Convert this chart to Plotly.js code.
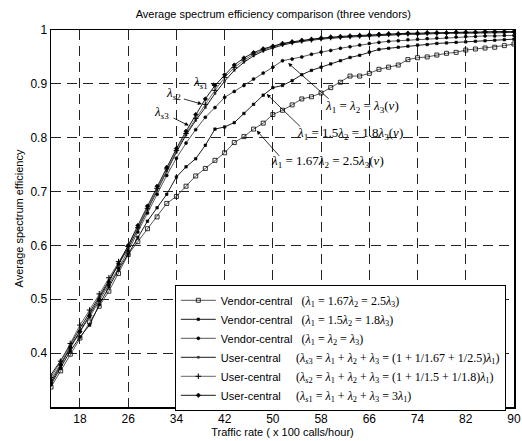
<!DOCTYPE html>
<html>
<head>
<meta charset="utf-8">
<script src="https://cdn.plot.ly/plotly-3.0.1.min.js"></script>
<style>
  html, body { margin: 0; padding: 0; background: #fff; }
  #chart { width: 522px; height: 441px; }
</style>
</head>
<body>
<div id="chart"></div>
<script>
// ---- Data ----
const trafficRate = [13.2, 14.8, 16.4, 18.0, 19.6, 21.2, 22.8, 24.4, 26.0, 27.6,
  29.2, 30.8, 32.4, 34.0, 35.6, 37.2, 38.8, 40.4, 42.0, 43.6,
  45.2, 46.8, 48.4, 50.0, 51.6, 53.2, 54.8, 56.4, 58.0, 59.6,
  61.2, 62.8, 64.4, 66.0, 67.6, 69.2, 70.8, 72.4, 74.0, 75.6,
  77.2, 78.8, 80.4, 82.0, 83.6, 85.2, 86.8, 88.4, 90.0];

// Vendor-central (λ1 = 1.67λ2 = 2.5λ3)
const vendor167 = [0.337, 0.367, 0.398, 0.428, 0.458, 0.487, 0.515, 0.548, 0.583, 0.607,
  0.631, 0.653, 0.678, 0.691, 0.710, 0.729, 0.743, 0.758, 0.772, 0.791,
  0.802, 0.816, 0.827, 0.843, 0.851, 0.861, 0.872, 0.876, 0.883, 0.893,
  0.903, 0.9145, 0.9145, 0.9195, 0.927, 0.931, 0.935, 0.945, 0.9485, 0.950,
  0.9535, 0.9567, 0.9585, 0.9628, 0.9647, 0.9665, 0.968, 0.971, 0.974];

// Vendor-central (λ1 = 1.5λ2 = 1.8λ3)
const vendor15 = [0.342, 0.372, 0.404, 0.430, 0.452, 0.490, 0.523, 0.555, 0.584, 0.615,
  0.645, 0.670, 0.695, 0.727, 0.746, 0.761, 0.786, 0.816, 0.820, 0.828,
  0.845, 0.862, 0.879, 0.893, 0.897, 0.906, 0.917, 0.925, 0.931, 0.937,
  0.943, 0.949, 0.953, 0.959, 0.964, 0.966, 0.968, 0.970, 0.972, 0.973,
  0.975, 0.976, 0.977, 0.978, 0.979, 0.980, 0.981, 0.982, 0.983];

// Vendor-central (λ1 = λ2 = λ3)
const vendorEq = [0.350, 0.380, 0.413, 0.440, 0.467, 0.497, 0.527, 0.558, 0.590, 0.625,
  0.660, 0.695, 0.730, 0.762, 0.790, 0.815, 0.838, 0.856, 0.875, 0.886,
  0.897, 0.909, 0.920, 0.931, 0.943, 0.946, 0.950, 0.955, 0.959, 0.962,
  0.966, 0.969, 0.972, 0.975, 0.977, 0.979, 0.980, 0.982, 0.983, 0.984,
  0.985, 0.986, 0.987, 0.988, 0.988, 0.989, 0.989, 0.990, 0.990];

// User-central λs3
const userS3 = [0.360, 0.386, 0.416, 0.445, 0.475, 0.505, 0.535, 0.564, 0.595, 0.630,
  0.666, 0.702, 0.738, 0.773, 0.805, 0.832, 0.856, 0.882, 0.905, 0.925,
  0.940, 0.952, 0.961, 0.967, 0.972, 0.976, 0.979, 0.981, 0.983, 0.985,
  0.986, 0.987, 0.988, 0.989, 0.990, 0.991, 0.991, 0.992, 0.992, 0.993,
  0.993, 0.994, 0.994, 0.994, 0.995, 0.995, 0.995, 0.995, 0.996];

// User-central λs2
const userS2 = [0.355, 0.385, 0.418, 0.452, 0.480, 0.510, 0.540, 0.570, 0.598, 0.633,
  0.669, 0.706, 0.742, 0.776, 0.808, 0.836, 0.862, 0.888, 0.912, 0.930,
  0.944, 0.955, 0.963, 0.969, 0.974, 0.977, 0.980, 0.982, 0.984, 0.986,
  0.987, 0.988, 0.989, 0.990, 0.991, 0.992, 0.992, 0.993, 0.993, 0.994,
  0.994, 0.994, 0.995, 0.995, 0.995, 0.996, 0.996, 0.996, 0.996];

// User-central λs1
const userS1 = [0.345, 0.378, 0.410, 0.440, 0.470, 0.500, 0.532, 0.566, 0.600, 0.637,
  0.673, 0.710, 0.745, 0.780, 0.812, 0.843, 0.872, 0.897, 0.917, 0.935,
  0.948, 0.958, 0.965, 0.970, 0.975, 0.978, 0.981, 0.983, 0.985, 0.987,
  0.988, 0.989, 0.990, 0.991, 0.992, 0.993, 0.993, 0.994, 0.994, 0.995,
  0.995, 0.995, 0.996, 0.996, 0.996, 0.997, 0.997, 0.997, 0.997];

const xTickVals = [18, 26, 34, 42, 50, 58, 66, 74, 82, 90];
const yTickVals = [0.4, 0.5, 0.6, 0.7, 0.8, 0.9, 1.0];
const yTickText = ['0.4', '0.5', '0.6', '0.7', '0.8', '0.9', '1'];

const seriesLabels = ['Vendor-central', 'Vendor-central', 'Vendor-central',
  'User-central', 'User-central', 'User-central'];
const L = '<i>λ</i>';
const seriesFormulas = [
  '(' + L + '<sub>1</sub> = 1.67' + L + '<sub>2</sub> = 2.5' + L + '<sub>3</sub>)',
  '(' + L + '<sub>1</sub> = 1.5' + L + '<sub>2</sub> = 1.8' + L + '<sub>3</sub>)',
  '(' + L + '<sub>1</sub> = ' + L + '<sub>2</sub> = ' + L + '<sub>3</sub>)',
  '(' + L + '<sub><i>s</i>3</sub> = ' + L + '<sub>1</sub> + ' + L + '<sub>2</sub> + ' + L + '<sub>3</sub> = (1 + 1/1.67 + 1/2.5)' + L + '<sub>1</sub>)',
  '(' + L + '<sub><i>s</i>2</sub> = ' + L + '<sub>1</sub> + ' + L + '<sub>2</sub> + ' + L + '<sub>3</sub> = (1 + 1/1.5 + 1/1.8)' + L + '<sub>1</sub>)',
  '(' + L + '<sub><i>s</i>1</sub> = ' + L + '<sub>1</sub> + ' + L + '<sub>2</sub> + ' + L + '<sub>3</sub> = 3' + L + '<sub>1</sub>)'
];

const curveLabels = [
  L + '<sub><i>s</i>1</sub>', L + '<sub><i>s</i>2</sub>', L + '<sub><i>s</i>3</sub>',
  L + '<sub>1</sub> = ' + L + '<sub>2</sub> = ' + L + '<sub>3</sub>(<i>v</i>)',
  L + '<sub>1</sub> = 1.5' + L + '<sub>2</sub> = 1.8' + L + '<sub>3</sub>(<i>v</i>)',
  L + '<sub>1</sub> = 1.67' + L + '<sub>2</sub> = 2.5' + L + '<sub>3</sub>(<i>v</i>)'
];

// ---- Styles ----
const SANS = '"Liberation Sans", Arial, sans-serif';
const SERIF = '"Liberation Serif", "Times New Roman", serif';
const pad = ['&nbsp;&nbsp;&nbsp;', '&nbsp;&nbsp;&nbsp;', '&nbsp;&nbsp;&nbsp;',
  '&nbsp;&nbsp;&nbsp;&nbsp;&nbsp;', '&nbsp;&nbsp;&nbsp;&nbsp;&nbsp;', '&nbsp;&nbsp;&nbsp;&nbsp;&nbsp;'];

const styles = [
  {color: '#444', symbol: 'square-open', size: 4, mcolor: '#000', lw: 0.8},
  {color: '#000', symbol: 'square', size: 2.5, mcolor: '#000', lw: 0.6},
  {color: '#444', symbol: 'circle', size: 3, mcolor: '#000', lw: 0.6},
  {color: '#000', symbol: 'square', size: 2, mcolor: '#333', lw: 0.5},
  {color: '#555', symbol: 'cross-thin-open', size: 4, mcolor: '#000', lw: 1},
  {color: '#000', symbol: 'diamond', size: 3.5, mcolor: '#000', lw: 0.5}
];
const allSeries = [vendor167, vendor15, vendorEq, userS3, userS2, userS1];

const traces = allSeries.map((ys, i) => ({
  x: trafficRate,
  y: ys,
  type: 'scatter',
  mode: 'lines+markers',
  name: seriesLabels[i] + pad[i] + '<span style="font-family:' + SERIF.replace(/"/g, "'") + ';font-size:12px">' + seriesFormulas[i] + '</span>',
  line: {color: styles[i].color, width: 0.9},
  marker: {symbol: styles[i].symbol, size: styles[i].size, color: styles[i].mcolor,
           line: {color: styles[i].mcolor, width: styles[i].lw}}
}));

// annotation helpers (pixel position in the reference -> data value)
function px2x(px) { return 18 + (px - 79.3) / 6.042; }
function py2y(py) { return 1 - (py - 30) / 538; }

const textAnn = [
  {px: 200, py: 82, t: curveLabels[0]},
  {px: 173, py: 93, t: curveLabels[1]},
  {px: 161, py: 112, t: curveLabels[2]},
  {px: 362, py: 106, t: curveLabels[3]},
  {px: 350, py: 133, t: curveLabels[4]},
  {px: 327, py: 161, t: curveLabels[5]}
];
const arrowAnn = [
  {hx: 216, hy: 85.5, ax: -7, ay: -2.5},
  {hx: 201.5, hy: 104, ax: -19.5, ay: -5.5},
  {hx: 188.3, hy: 125.5, ax: -16.6, ay: -8.3},
  {hx: 288, hy: 63, ax: 42, ay: 37},
  {hx: 266.5, hy: 94, ax: 35, ay: 34},
  {hx: 256.5, hy: 130.5, ax: 24, ay: 27}
];

const annotations = [];
textAnn.forEach(a => annotations.push({
  x: px2x(a.px), y: py2y(a.py), xref: 'x', yref: 'y', text: a.t, showarrow: false,
  font: {family: SERIF, size: 13, color: '#000'}, xanchor: 'center', yanchor: 'middle'
}));
arrowAnn.forEach(a => annotations.push({
  x: px2x(a.hx), y: py2y(a.hy), xref: 'x', yref: 'y', text: ' ', showarrow: true,
  ax: a.ax, ay: a.ay, arrowhead: 2, arrowsize: 1, arrowwidth: 0.8, arrowcolor: '#000',
  font: {size: 1}
}));

const gridDash = '10px,6px';
const layout = {
  width: 522, height: 441,
  margin: {l: 51, r: 8, t: 30, b: 34, pad: 0},
  paper_bgcolor: '#fff', plot_bgcolor: '#fff',
  font: {family: SANS, size: 11, color: '#000'},
  title: {text: 'Average spectrum efficiency comparison (three vendors)',
          font: {family: SANS, size: 11, color: '#000'},
          x: 0.5236, xref: 'container', xanchor: 'center',
          y: 1 - 14.5 / 441, yref: 'container', yanchor: 'middle'},
  xaxis: {
    range: [13.2, 90], tickvals: xTickVals, ticks: '',
    showline: true, linecolor: '#000', linewidth: 1.5, mirror: true,
    showgrid: true, gridcolor: '#222', gridwidth: 1, griddash: gridDash,
    zeroline: false, tickfont: {family: SANS, size: 12},
    title: {text: 'Traffic rate ( x 100 calls/hour)', font: {family: SANS, size: 11}, standoff: 3}
  },
  yaxis: {
    range: [0.3, 1], tickvals: yTickVals, ticktext: yTickText, ticks: '',
    showline: true, linecolor: '#000', linewidth: 1.5, mirror: true,
    showgrid: true, gridcolor: '#222', gridwidth: 1, griddash: gridDash,
    zeroline: false, tickfont: {family: SANS, size: 12},
    title: {text: 'Average spectrum efficiency', font: {family: SANS, size: 11}, standoff: 4}
  },
  showlegend: true,
  legend: {
    x: (175 - 51) / 463.6, y: (407.3 - 285) / 377.3, xanchor: 'left', yanchor: 'top',
    bgcolor: '#fff', bordercolor: '#000', borderwidth: 1,
    font: {family: SANS, size: 11, color: '#000'},
    itemwidth: 35, tracegroupgap: 0
  },
  annotations: annotations
};

Plotly.newPlot('chart', traces, layout, {staticPlot: true, displayModeBar: false});
</script>
</body>
</html>
